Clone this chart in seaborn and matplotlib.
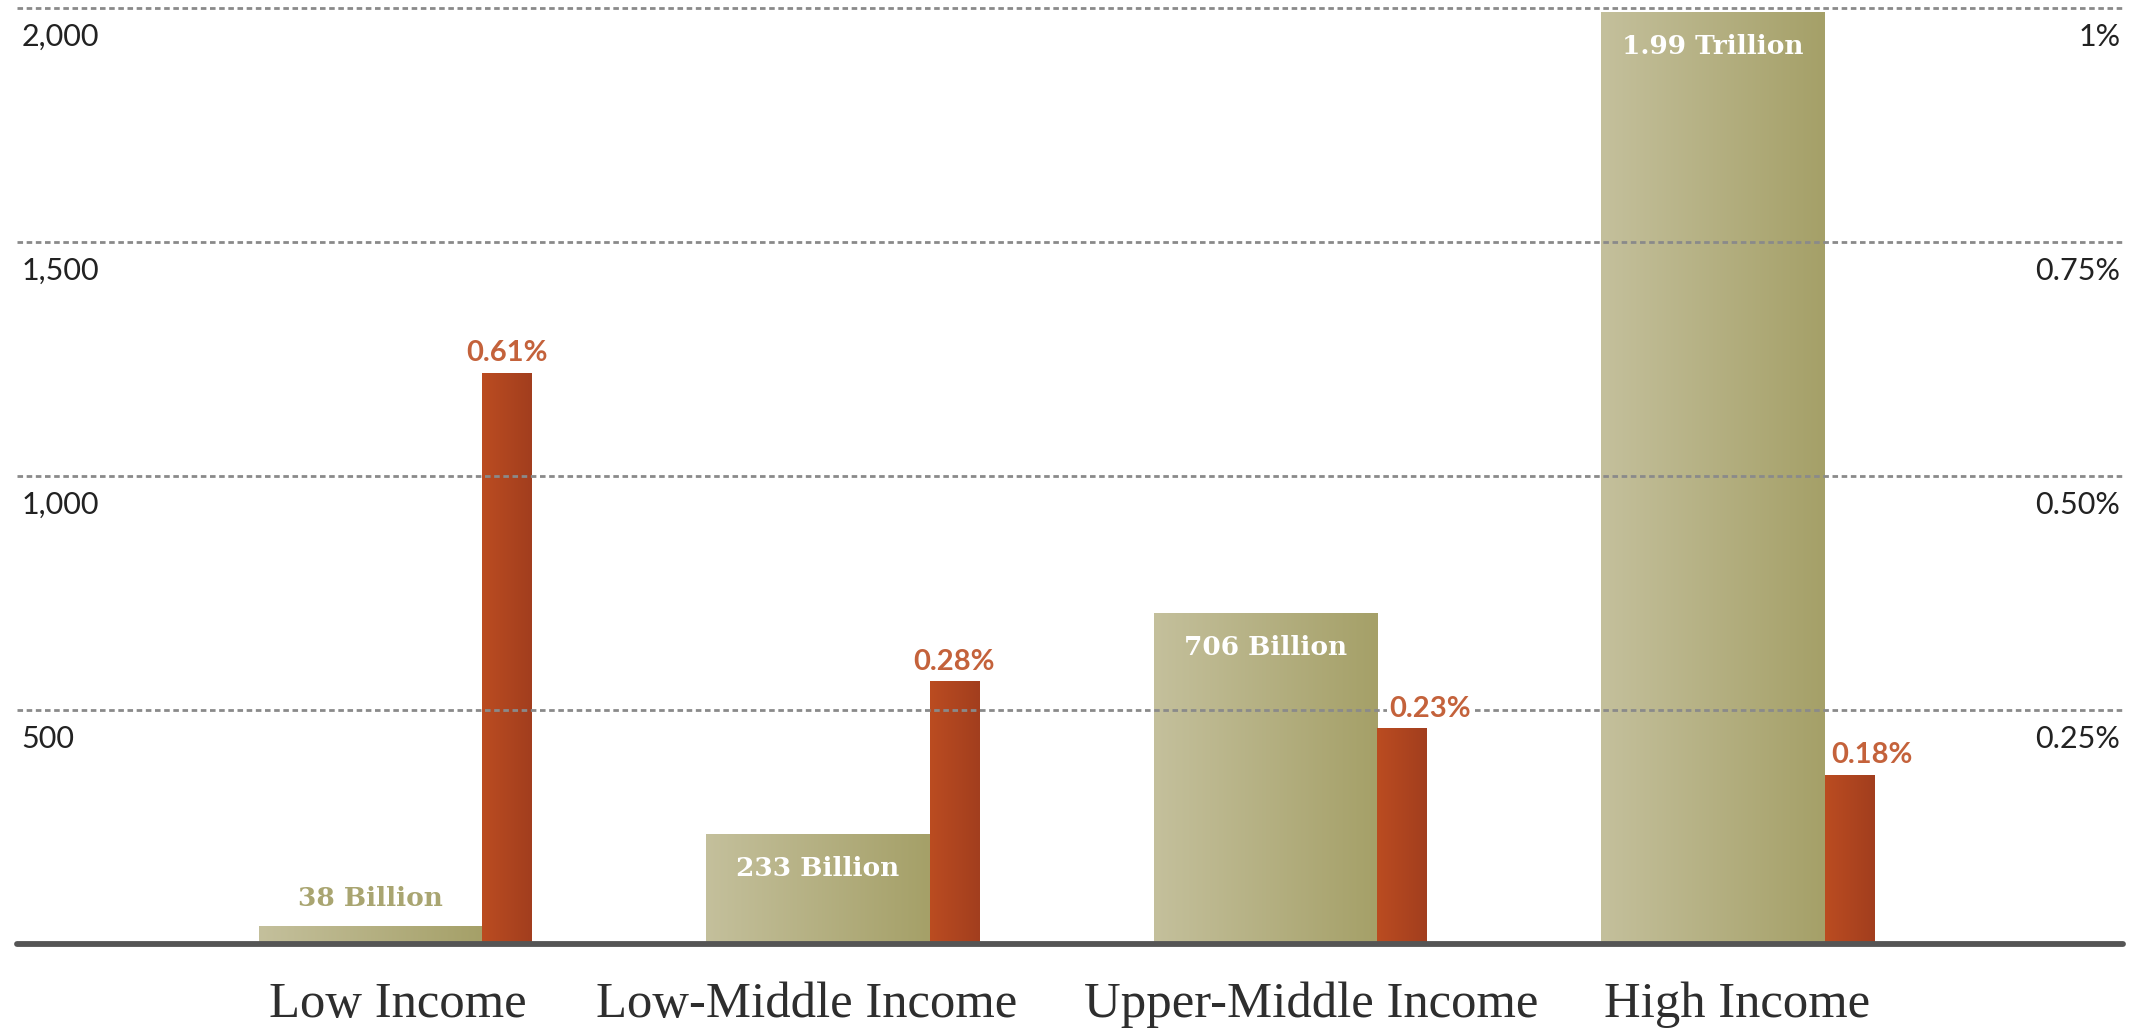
import numpy as np
import matplotlib
matplotlib.use("Agg")
import matplotlib.pyplot as plt
from matplotlib.colors import LinearSegmentedColormap
from matplotlib.transforms import blended_transform_factory
import seaborn as sns

# ---- data -------------------------------------------------------------
categories = ["Low Income", "Low-Middle Income", "Upper-Middle Income", "High Income"]
gdp_billions = [38, 233, 706, 1990]
gdp_labels = ["38 Billion", "233 Billion", "706 Billion", "1.99 Trillion"]
share_pct = [0.61, 0.28, 0.23, 0.18]
share_labels = ["0.61%", "0.28%", "0.23%", "0.18%"]

left_ticks = [500, 1000, 1500, 2000]
left_tick_labels = ["500", "1,000", "1,500", "2,000"]
right_ticks = [0.25, 0.50, 0.75, 1.00]
right_tick_labels = ["0.25%", "0.50%", "0.75%", "1%"]

# ---- layout / style ---------------------------------------------------
OLIVE_L, OLIVE_R = "#c4c09c", "#a5a068"
RUST_L, RUST_R = "#bb4c21", "#a23e1e"
OLIVE_TEXT = "#a9a571"
RUST_TEXT = "#c4623b"
INK = "#222222"

olive_width = 0.5
share_width = 0.1095
share_shift = olive_width / 2 + share_width / 2
label_shift = [0.060, -0.025, 0.102, 0.054]      # category caption offsets
share_label_dx = [0, 0, 20, 16]                  # points, keeps labels clear of tall bars

sns.set_theme(style="white")
plt.rcParams["font.family"] = ["Lato", "DejaVu Sans"]

W, H = 2152, 1028
fig = plt.figure(figsize=(W / 100, H / 100), dpi=100)
fig.patch.set_facecolor("white")
ax = fig.add_axes([17 / W, 84 / H, 2106 / W, 936 / H])
ax2 = ax.twinx()

idx = np.arange(len(categories), dtype=float)
olive_x = idx
share_x = idx + share_shift

sns.barplot(x=olive_x, y=gdp_billions, native_scale=True, width=olive_width,
            color=OLIVE_R, saturation=1, linewidth=0, zorder=2, ax=ax)
sns.barplot(x=share_x, y=share_pct, native_scale=True, width=share_width,
            color=RUST_R, saturation=1, linewidth=0, zorder=2, ax=ax2)


def paint_gradient(axis, c_left, c_right):
    cmap = LinearSegmentedColormap.from_list("bar_grad", [c_left, c_right])
    grad = np.linspace(0, 1, 256).reshape(1, -1)
    for p in list(axis.patches):
        x0, y0 = p.get_x(), p.get_y()
        w, h = p.get_width(), p.get_height()
        axis.imshow(grad, cmap=cmap, extent=[x0, x0 + w, y0, y0 + h],
                    aspect="auto", interpolation="bilinear",
                    zorder=p.get_zorder() + 0.1)


paint_gradient(ax, OLIVE_L, OLIVE_R)
paint_gradient(ax2, RUST_L, RUST_R)

ax.set_xlim(-0.790, 3.916)
ax.set_ylim(0, 2000)
ax2.set_ylim(0, 1)

for a in (ax, ax2):
    for s in a.spines.values():
        s.set_visible(False)
    a.set_xticks([])
    a.set_yticks([])
    a.set_xlabel("")
    a.set_ylabel("")
    a.grid(False)

# dashed guides and the solid baseline sit above the bars
for v in right_ticks:
    ax2.axhline(v, color="#8a8a8a", lw=2.0, linestyle=(0, (2.0, 1.3)),
                zorder=5, clip_on=False)
ax2.axhline(0, color="#555555", lw=4.2, zorder=6, clip_on=False)

# axis labels sit just beneath each guide line
t_left = blended_transform_factory(ax.transAxes, ax.transData)
for v, s in zip(left_ticks, left_tick_labels):
    ax.annotate(s, xy=(0, v), xycoords=t_left, xytext=(3, -21),
                textcoords="offset points", ha="left", va="center",
                fontsize=22, color=INK)

t_right = blended_transform_factory(ax2.transAxes, ax2.transData)
for v, s in zip(right_ticks, right_tick_labels):
    ax2.annotate(s, xy=(1, v), xycoords=t_right, xytext=(-2, -21),
                 textcoords="offset points", ha="right", va="center",
                 fontsize=22, color=INK, zorder=8)

# category captions
t_cat = blended_transform_factory(ax.transData, ax.transAxes)
for x, dx, name in zip(idx, label_shift, categories):
    ax.text(x + dx, -0.078, name, transform=t_cat, ha="center", va="baseline",
            fontsize=36.5, family="Liberation Serif", color="#2e2e2e")

# value labels on the GDP bars
for x, v, s in zip(olive_x, gdp_billions, gdp_labels):
    inside = v > 100
    ax.annotate(s, xy=(x, v), xytext=(0, -24.5 if inside else 20),
                textcoords="offset points", ha="center", va="center",
                fontsize=19, family="DejaVu Serif", fontweight="bold",
                color="white" if inside else OLIVE_TEXT, zorder=7)

# value labels on the share bars
for x, v, s, dx in zip(share_x, share_pct, share_labels, share_label_dx):
    ax2.annotate(s, xy=(x, v), xytext=(dx, 14.5), textcoords="offset points",
                 ha="center", va="center", fontsize=21, fontweight="bold",
                 color=RUST_TEXT, zorder=9,
                 bbox=dict(facecolor="white", edgecolor="none", pad=1.0))

fig.savefig("out.png", dpi=100, facecolor="white")
